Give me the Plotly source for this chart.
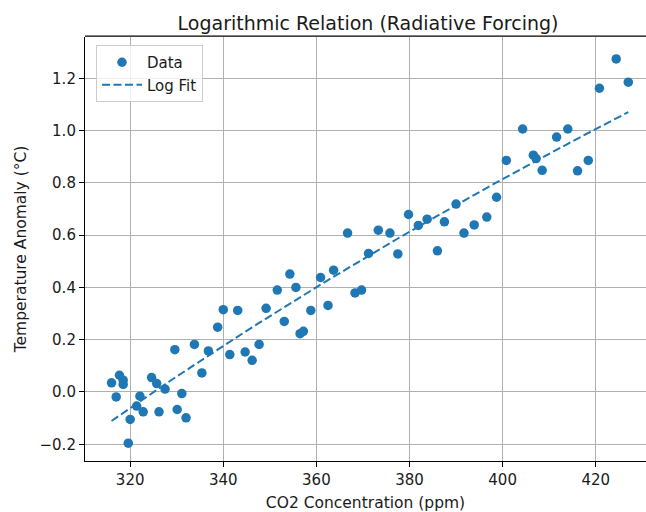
import numpy as np
import plotly.graph_objects as go

# CO2 concentration (ppm) and temperature anomaly (°C)
co2_ppm = [316.0, 317.7, 318.5, 318.5, 317.0, 319.6, 320.0, 321.4, 322.1, 322.8,
           324.6, 325.7, 327.5, 326.2, 330.1, 331.1, 332.0, 329.6, 333.8, 336.8,
           335.4, 338.8, 340.0, 341.4, 343.1, 344.7, 346.2, 347.7, 349.2, 353.1,
           351.6, 354.3, 355.6, 356.5, 357.2, 358.8, 360.9, 363.7, 362.5, 366.7,
           368.3, 369.7, 371.2, 373.3, 375.8, 377.5, 379.8, 381.9, 383.8, 386.0,
           387.5, 390.0, 391.7, 393.9, 396.6, 398.7, 400.8, 404.3, 406.6, 407.2,
           408.5, 411.6, 414.0, 416.1, 418.4, 420.8, 424.4, 427.0]
temp_anomaly = [0.035, 0.064, 0.045, 0.029, -0.019, -0.196, -0.105, -0.054, -0.016, -0.076,
                0.055, 0.032, 0.011, -0.076, -0.067, -0.006, -0.099, 0.162, 0.182, 0.157,
                0.073, 0.248, 0.315, 0.143, 0.312, 0.153, 0.121, 0.182, 0.320, 0.270,
                0.390, 0.451, 0.400, 0.223, 0.232, 0.312, 0.438, 0.466, 0.331, 0.608,
                0.379, 0.390, 0.530, 0.619, 0.608, 0.528, 0.679, 0.637, 0.661, 0.540,
                0.651, 0.719, 0.608, 0.639, 0.669, 0.745, 0.886, 1.006, 0.906, 0.893,
                0.848, 0.975, 1.006, 0.846, 0.886, 1.162, 1.274, 1.185]

x_ticks = [320, 340, 360, 380, 400, 420]
y_ticks = [-0.2, 0.0, 0.2, 0.4, 0.6, 0.8, 1.0, 1.2]

# Logarithmic fit of the data (T = a + b*ln(CO2))
xs = np.array(sorted(co2_ppm))
b, a = np.polyfit(np.log(np.array(co2_ppm)), np.array(temp_anomaly), 1)
fit_y = a + b * np.log(xs)

BLUE = "#1f77b4"
FONT = "DejaVu Sans"
TXT = "#1a1a1a"

fig = go.Figure()
fig.add_trace(go.Scatter(
    x=co2_ppm, y=temp_anomaly, mode="markers", name="Data",
    marker=dict(color=BLUE, size=9.5, line=dict(width=0)),
))
fig.add_trace(go.Scatter(
    x=xs, y=fit_y, mode="lines", name="Log Fit",
    line=dict(color=BLUE, width=2, dash="8px,3.5px"),
))

fig.update_layout(
    width=646, height=512,
    margin=dict(l=85, r=0, t=37, b=51, autoexpand=False),
    paper_bgcolor="white", plot_bgcolor="white",
    font=dict(family=FONT, size=15, color=TXT),
    title=dict(text="Logarithmic Relation (Radiative Forcing)",
               x=368 / 646, xref="container", xanchor="center",
               y=1 - 23 / 512, yref="container", yanchor="middle",
               font=dict(family=FONT, size=19, color=TXT)),
    showlegend=True,
    legend=dict(x=11 / 561, y=1 - 8 / 423.7, xanchor="left", yanchor="top",
                bgcolor="rgba(255,255,255,0.8)", bordercolor="#cccccc", borderwidth=1,
                font=dict(family=FONT, size=15, color=TXT),
                tracegroupgap=2, itemwidth=40),
    shapes=[dict(type="line", xref="paper", yref="paper", x0=0, x1=1, y0=1.002, y1=1.002,
                 line=dict(color="black", width=1.4), layer="above")],
)
fig.update_xaxes(
    range=[310.3, 430.8], tickvals=x_ticks, ticktext=[str(v) for v in x_ticks],
    automargin=False,
    showgrid=True, gridcolor="#b0b0b0", gridwidth=1,
    showline=True, linecolor="black", linewidth=1.1,
    ticks="outside", ticklen=5, tickwidth=1.1, tickcolor="black",
    zeroline=False, tickfont=dict(size=15),
    title=dict(text="CO2 Concentration (ppm)", standoff=12,
               font=dict(family=FONT, size=15.5, color=TXT)),
)
fig.update_yaxes(
    range=[-0.264, 1.358], tickvals=y_ticks,
    ticktext=[("\u2212" if v < 0 else "") + f"{abs(v):.1f}" for v in y_ticks],
    automargin=False,
    showgrid=True, gridcolor="#b0b0b0", gridwidth=1,
    showline=True, linecolor="black", linewidth=1.1,
    ticks="outside", ticklen=5, tickwidth=1.1, tickcolor="black",
    zeroline=False, tickfont=dict(size=15),
    title=dict(text="Temperature Anomaly (°C)", standoff=9,
               font=dict(family=FONT, size=15.5, color=TXT)),
)

fig.write_html("out.html",
               config={"displayModeBar": False},
               post_script="document.body.style.margin='0px';document.body.style.overflow='hidden';")
